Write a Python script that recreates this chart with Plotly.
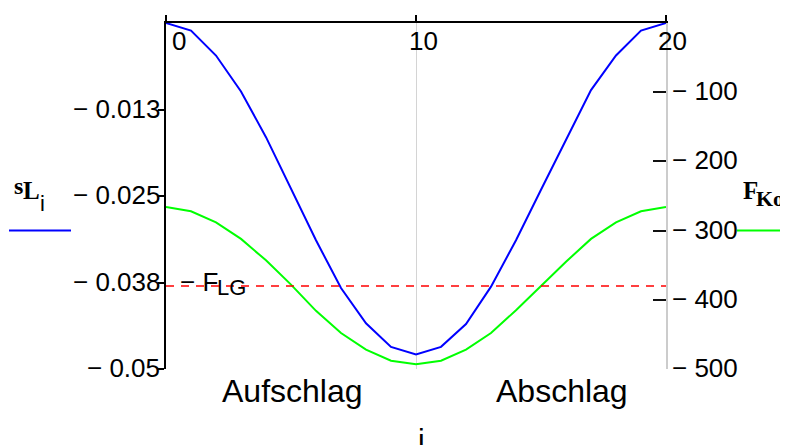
import plotly.graph_objects as go

# ---- data ----
i_vals = list(range(21))
s_L = [0.0, -0.0011, -0.0047, -0.0099, -0.0165, -0.0240, -0.0314, -0.0383, -0.0434, -0.0468,
       -0.0479, -0.0468, -0.0435, -0.0381, -0.0314, -0.0241, -0.0168, -0.0097, -0.0047, -0.0011, 0.0]
F_Ko = [-266, -272, -288, -312, -343, -378, -416, -448, -472, -488,
        -493, -488, -472, -448, -415, -380, -345, -312, -288, -272, -266]
F_LG = 380

x_ticks = [0, 10, 20]
x_tick_text = ["0", "10", "20"]
left_ticks = [-0.0125, -0.025, -0.0375, -0.05]
left_tick_text = ["\u2212 0.013", "\u2212 0.025", "\u2212 0.038", "\u2212 0.05"]
right_ticks = [-100, -200, -300, -400, -500]
right_tick_text = ["\u2212 100", "\u2212 200", "\u2212 300", "\u2212 400", "\u2212 500"]

SANS = "Liberation Sans, Arial, sans-serif"
SERIF = "Liberation Serif, Times New Roman, serif"
TICK_SIZE = 26

fig = go.Figure()
fig.add_trace(go.Scatter(x=i_vals, y=s_L, mode="lines", line=dict(color="#0000ff", width=2),
                         xaxis="x", yaxis="y", hoverinfo="skip"))
fig.add_trace(go.Scatter(x=i_vals, y=F_Ko, mode="lines", line=dict(color="#00ff00", width=2),
                         xaxis="x", yaxis="y2", hoverinfo="skip"))
fig.add_trace(go.Scatter(x=i_vals, y=[-F_LG] * len(i_vals), mode="lines",
                         line=dict(color="#ff0000", width=1.4, dash="8px,7px"),
                         xaxis="x", yaxis="y2", hoverinfo="skip"))

ann = []
# left tick labels
for v, t in zip(left_ticks, left_tick_text):
    ann.append(dict(x=0, xref="paper", y=v, yref="y", text=t, showarrow=False,
                    xanchor="right", yanchor="middle", xshift=-4, yshift=1,
                    font=dict(family=SANS, size=TICK_SIZE, color="black")))
# right tick labels
for v, t in zip(right_ticks, right_tick_text):
    ann.append(dict(x=1, xref="paper", y=v, yref="y2", text=t, showarrow=False,
                    xanchor="left", yanchor="middle", xshift=4, yshift=1,
                    font=dict(family=SANS, size=TICK_SIZE, color="black")))
# top tick labels (below the top axis line)
x_label_shift = [13, 7, 6]
for v, t, sh in zip(x_ticks, x_tick_text, x_label_shift):
    ann.append(dict(x=v, xref="x", y=1, yref="paper", text=t, showarrow=False,
                    xanchor="center", yanchor="middle", xshift=sh, yshift=-18,
                    font=dict(family=SANS, size=TICK_SIZE, color="black")))
# texts
ann.append(dict(x=5.05, xref="x", y=0, yref="paper", text="Aufschlag", showarrow=False,
                xanchor="center", yanchor="middle", yshift=-22,
                font=dict(family=SANS, size=32, color="black")))
ann.append(dict(x=15.83, xref="x", y=0, yref="paper", text="Abschlag", showarrow=False,
                xanchor="center", yanchor="middle", yshift=-22,
                font=dict(family=SANS, size=32, color="black")))
ann.append(dict(x=10.2, xref="x", y=0, yref="paper", text="i", showarrow=False,
                xanchor="center", yanchor="middle", yshift=-70,
                font=dict(family=SANS, size=30, color="black")))
# -F_LG label
ann.append(dict(x=0, xref="x", y=-F_LG, yref="y2", text="\u2212 F", showarrow=False,
                xanchor="left", yanchor="middle", xshift=12, yshift=4,
                font=dict(family=SANS, size=TICK_SIZE, color="black")))
ann.append(dict(x=0, xref="x", y=-F_LG, yref="y2", text="LG", showarrow=False,
                xanchor="left", yanchor="middle", xshift=49, yshift=-2,
                font=dict(family=SANS, size=22, color="black")))
# left legend label  sL_i
ann.append(dict(x=-0.295, xref="paper", y=0.5, yref="paper", text="<b>s</b>", showarrow=False,
                xanchor="center", yanchor="middle", yshift=10,
                font=dict(family=SERIF, size=24, color="black")))
ann.append(dict(x=-0.27, xref="paper", y=0.5, yref="paper", text="<b>L</b>", showarrow=False,
                xanchor="center", yanchor="middle", yshift=6,
                font=dict(family=SERIF, size=25, color="black")))
ann.append(dict(x=-0.247, xref="paper", y=0.5, yref="paper", text="i", showarrow=False,
                xanchor="center", yanchor="middle", yshift=-7,
                font=dict(family=SANS, size=22, color="black")))
# right legend label F_Ko
ann.append(dict(x=1.168, xref="paper", y=0.5, yref="paper", text="<b>F</b>", showarrow=False,
                xanchor="center", yanchor="middle", yshift=6,
                font=dict(family=SERIF, size=25, color="black")))
ann.append(dict(x=1.176, xref="paper", y=0.5, yref="paper", text="<b>Ko</b>", showarrow=False,
                xanchor="left", yanchor="middle", yshift=-2,
                font=dict(family=SERIF, size=22, color="black")))

shapes = [
    dict(type="line", xref="paper", yref="paper", x0=-0.314, x1=-0.19, y0=0.4, y1=0.4,
         line=dict(color="#0000ff", width=2)),
    dict(type="line", xref="paper", yref="paper", x0=1.142, x1=1.25, y0=0.4, y1=0.4,
         line=dict(color="#00ff00", width=2)),
]

# page body has an 8px margin, so the figure is 8px smaller than the window
fig.update_layout(
    width=780, height=437,
    margin=dict(l=158, r=122, t=9, b=76),
    plot_bgcolor="white", paper_bgcolor="white",
    showlegend=False,
    xaxis=dict(range=[0, 20], side="top", anchor="y", showline=True, linecolor="black", linewidth=2,
               ticks="outside", ticklen=6, tickwidth=2, tickcolor="black", tickvals=x_ticks,
               showticklabels=False, showgrid=True, gridcolor="#d4d4d4", gridwidth=1,
               zeroline=False, fixedrange=True),
    xaxis2=dict(range=[0, 20], side="top", anchor="y", overlaying="x",
                ticks="inside", ticklen=6, tickwidth=2, tickcolor="black", tickvals=x_ticks,
                showticklabels=False, showgrid=False, showline=False, zeroline=False),
    yaxis=dict(range=[-0.05, 0], side="left", anchor="x", showline=True, linecolor="black", linewidth=2,
               ticks="outside", ticklen=6, tickwidth=2, tickcolor="black", tickvals=left_ticks,
               showticklabels=False, showgrid=False, zeroline=False),
    yaxis3=dict(range=[-0.05, 0], side="left", anchor="x", overlaying="y",
                ticks="inside", ticklen=7, tickwidth=2, tickcolor="black", tickvals=left_ticks,
                showticklabels=False, showgrid=False, showline=False, zeroline=False),
    yaxis2=dict(range=[-500, 0], side="right", anchor="x", overlaying="y", showline=True,
                linecolor="#cccccc", linewidth=1.5,
                ticks="inside", ticklen=13, tickwidth=2, tickcolor="#111111", tickvals=right_ticks,
                showticklabels=False, showgrid=False, zeroline=False),
    annotations=ann,
    shapes=shapes,
)

fig.write_html("out.html")
